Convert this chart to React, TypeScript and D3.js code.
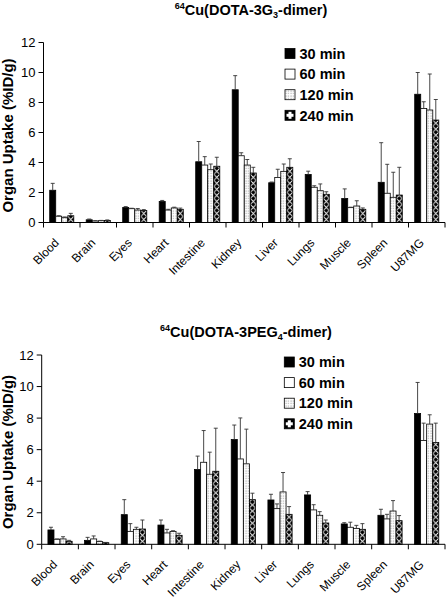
import React from "react";
import * as d3 from "d3";

const categories = ["Blood", "Brain", "Eyes", "Heart", "Intestine", "Kidney", "Liver", "Lungs", "Muscle", "Spleen", "U87MG"];
const seriesNames = ["30 min", "60 min", "120 min", "240 min"];
const yTicks = [0, 2, 4, 6, 8, 10, 12];

// 64Cu(DOTA-3G3-dimer)
const g3_30 = [2.15, 0.18, 1.0, 1.4, 4.05, 8.85, 2.65, 3.2, 1.6, 2.68, 8.55];
const g3_60 = [0.42, 0.1, 0.92, 0.83, 3.83, 4.45, 3.0, 2.35, 0.99, 1.95, 7.6];
const g3_120 = [0.32, 0.12, 0.83, 0.97, 3.52, 3.83, 3.41, 2.12, 1.1, 1.68, 7.5];
const g3_240 = [0.45, 0.14, 0.8, 0.88, 3.75, 3.3, 3.68, 1.88, 0.88, 1.83, 6.83];
const g3_30_sd = [0.46, 0.05, 0.06, 0.07, 1.35, 0.94, 0.05, 0.22, 0.64, 2.64, 1.45];
const g3_60_sd = [0.03, 0.02, 0.03, 0.05, 0.56, 0.2, 0.55, 0.1, 0.03, 1.93, 0.45];
const g3_120_sd = [0.05, 0.02, 0.1, 0.05, 0.38, 0.37, 0.49, 0.45, 0.35, 1.67, 2.4];
const g3_240_sd = [0.16, 0.03, 0.06, 0.08, 0.6, 0.38, 0.57, 0.17, 0.09, 1.85, 1.37];

// 64Cu(DOTA-3PEG4-dimer)
const peg_30 = [0.91, 0.25, 1.88, 1.22, 4.74, 6.64, 2.81, 3.13, 1.29, 1.84, 8.29];
const peg_60 = [0.32, 0.34, 0.82, 0.72, 5.2, 5.41, 2.26, 2.18, 1.08, 1.61, 6.58];
const peg_120 = [0.34, 0.17, 0.95, 0.82, 4.44, 5.1, 3.32, 1.84, 1.01, 2.11, 7.62];
const peg_240 = [0.19, 0.1, 0.97, 0.57, 4.63, 2.83, 1.9, 1.35, 0.95, 1.5, 6.45];
const peg_30_sd = [0.17, 0.19, 0.95, 0.32, 0.85, 0.92, 0.36, 0.21, 0.08, 0.38, 1.97];
const peg_60_sd = [0.02, 0.19, 0.49, 0.23, 2.01, 2.6, 0.3, 0.33, 0.32, 0.29, 1.1];
const peg_120_sd = [0.14, 0.03, 0.13, 0.04, 1.4, 2.2, 1.23, 0.23, 0.19, 0.66, 0.59];
const peg_240_sd = [0.06, 0.02, 0.57, 0.13, 2.73, 0.41, 0.49, 0.19, 0.36, 0.32, 1.23];

const FONT = "'Liberation Sans', Arial, Helvetica, sans-serif";

type ChartProps = {
  id: string;
  values: number[][];
  sds: number[][];
  xRange: [number, number];
  yRange: [number, number];
  titleMain: string;
  titleSub: string;
  titleX: number;
  titleY: number;
  legendX: number;
  legendY: number;
  labelCenterY: number;
};

function fillFor(id: string, s: number, i: number) {
  if (s === 0) return "#000";
  if (s === 1) return "#fff";
  if (s === 2) return `url(#dots-${id})`;
  return `url(#chk-${id}-${i})`;
}

function Diamond({ cx, cy, r }: { cx: number; cy: number; r: number }) {
  return <path d={`M${cx},${cy - r}L${cx + r},${cy}L${cx},${cy + r}L${cx - r},${cy}Z`} fill="#000" />;
}

function Chart(p: ChartProps) {
  const x0 = d3.scaleBand<string>().domain(categories).range(p.xRange).paddingInner(0.34).paddingOuter(0.17);
  const x1 = d3.scaleBand<string>().domain(seriesNames).range([0, x0.bandwidth()]);
  const y = d3.scaleLinear().domain([0, 12]).range(p.yRange);
  const bw = x1.bandwidth();
  const step = x0.step();
  const axisX = p.xRange[0];
  const axisY = y(0);
  const boundaries = d3.range(categories.length + 1).map((k) => p.xRange[0] + k * step);
  const dr = bw * 0.4;

  return (
    <g>
      <defs>
        <pattern id={`dots-${p.id}`} patternUnits="userSpaceOnUse" width={2.5} height={2.5}>
          <rect width={2.5} height={2.5} fill="#fff" />
          <rect x={0.5} y={0.5} width={1} height={1} fill="#8a8a8a" />
        </pattern>
        {categories.map((c, i) => (
          <pattern
            key={c}
            id={`chk-${p.id}-${i}`}
            patternUnits="userSpaceOnUse"
            width={bw}
            height={bw}
            x={(x0(c) as number) + (x1("240 min") as number)}
            y={axisY}
          >
            <rect width={bw} height={bw} fill="#fff" />
            <Diamond cx={bw / 2} cy={0} r={dr} />
            <Diamond cx={bw / 2} cy={bw} r={dr} />
            <Diamond cx={0} cy={bw / 2} r={dr} />
            <Diamond cx={bw} cy={bw / 2} r={dr} />
          </pattern>
        ))}
      </defs>

      {/* title */}
      <text x={p.titleX} y={p.titleY} textAnchor="middle" fontFamily={FONT} fontWeight="bold" fontSize={14.5} fill="#000">
        <tspan fontSize={9} dy={-6}>64</tspan>
        <tspan dy={6}>{"Cu(" + p.titleMain}</tspan>
        <tspan fontSize={9} dy={3}>{p.titleSub}</tspan>
        <tspan dy={-3}>-dimer)</tspan>
      </text>

      {/* bars */}
      {categories.map((c, i) =>
        seriesNames.map((s, si) => {
          const v = p.values[si][i];
          const bx = (x0(c) as number) + (x1(s) as number);
          const top = y(v);
          return (
            <rect key={c + s} x={bx} y={top} width={bw} height={axisY - top} fill={fillFor(p.id, si, i)} stroke="#000" strokeWidth={0.8} />
          );
        })
      )}

      {/* error bars */}
      {categories.map((c, i) =>
        seriesNames.map((s, si) => {
          const v = p.values[si][i];
          const e = p.sds[si][i];
          const cx = (x0(c) as number) + (x1(s) as number) + bw / 2;
          const yt = y(v + e);
          return (
            <g key={"e" + c + s} stroke="#333" strokeWidth={0.9}>
              <line x1={cx} x2={cx} y1={y(v)} y2={yt} />
              <line x1={cx - 2} x2={cx + 2} y1={yt} y2={yt} />
            </g>
          );
        })
      )}

      {/* axes */}
      <line x1={axisX} x2={axisX} y1={y(12)} y2={axisY} stroke="#000" strokeWidth={1} />
      <line x1={axisX} x2={p.xRange[1]} y1={axisY} y2={axisY} stroke="#000" strokeWidth={1} />
      {yTicks.map((t) => (
        <g key={"yt" + t}>
          <line x1={axisX - 5} x2={axisX} y1={y(t)} y2={y(t)} stroke="#000" strokeWidth={1} />
          <text x={axisX - 8} y={y(t)} dy="0.36em" textAnchor="end" fontFamily={FONT} fontSize={13} fill="#000">
            {t}
          </text>
        </g>
      ))}
      {boundaries.map((bx, k) => (
        <line key={"xt" + k} x1={bx} x2={bx} y1={axisY} y2={axisY + 5} stroke="#000" strokeWidth={1} />
      ))}
      {categories.map((c) => {
        const cx = (x0(c) as number) + x0.bandwidth() / 2;
        const tx = cx - 2;
        const ty = axisY + 21;
        return (
          <g key={"xl" + c} transform={`translate(${tx},${ty}) rotate(-45)`}>
            <text x={0} y={0} textAnchor="end" fontFamily={FONT} fontSize={12} fill="#000">
              {c}
            </text>
          </g>
        );
      })}

      {/* y label */}
      <g transform={`translate(13,${p.labelCenterY}) rotate(-90)`}>
        <text x={0} y={0} textAnchor="middle" fontFamily={FONT} fontWeight="bold" fontSize={15} fill="#000">
          Organ Uptake (%ID/g)
        </text>
      </g>

      {/* legend */}
      {seriesNames.map((s, si) => {
        const cy = p.legendY + si * 20.6;
        const lx = p.legendX;
        const fill = si === 0 ? "#000" : si === 1 ? "#fff" : si === 2 ? `url(#dots-${p.id})` : "#000";
        return (
          <g key={"lg" + s}>
            <rect x={lx} y={cy - 5} width={10} height={10} fill={fill} stroke="#000" strokeWidth={0.8} />
            {si === 3 ? (
              <g fill="#fff">
                <rect x={lx + 3.5} y={cy - 3.5} width={3} height={7} />
                <rect x={lx + 1.5} y={cy - 1.5} width={7} height={3} />
              </g>
            ) : null}
            <text x={lx + 14.5} y={cy} dy="0.36em" fontFamily={FONT} fontWeight="bold" fontSize={14.5} fill="#000">
              {s}
            </text>
          </g>
        );
      })}
    </g>
  );
}

export default function App() {
  return (
    <div style={{ position: "absolute", left: 0, top: 0 }}>
      <svg width={446} height={600} viewBox="0 0 446 600" style={{ display: "block", background: "#fff" }}>
        <rect width={446} height={600} fill="#fff" />
        <Chart
          id="a"
          values={[g3_30, g3_60, g3_120, g3_240]}
          sds={[g3_30_sd, g3_60_sd, g3_120_sd, g3_240_sd]}
          xRange={[43.5, 445]}
          yRange={[222.5, 42.5]}
          titleMain="DOTA-3G"
          titleSub="3"
          titleX={251}
          titleY={15}
          legendX={285}
          legendY={53.5}
          labelCenterY={135.5}
        />
        <Chart
          id="b"
          values={[peg_30, peg_60, peg_120, peg_240]}
          sds={[peg_30_sd, peg_60_sd, peg_120_sd, peg_240_sd]}
          xRange={[41.7, 445]}
          yRange={[544.3, 355]}
          titleMain="DOTA-3PEG"
          titleSub="4"
          titleX={246}
          titleY={337}
          legendX={284.3}
          legendY={362}
          labelCenterY={452}
        />
      </svg>
    </div>
  );
}
